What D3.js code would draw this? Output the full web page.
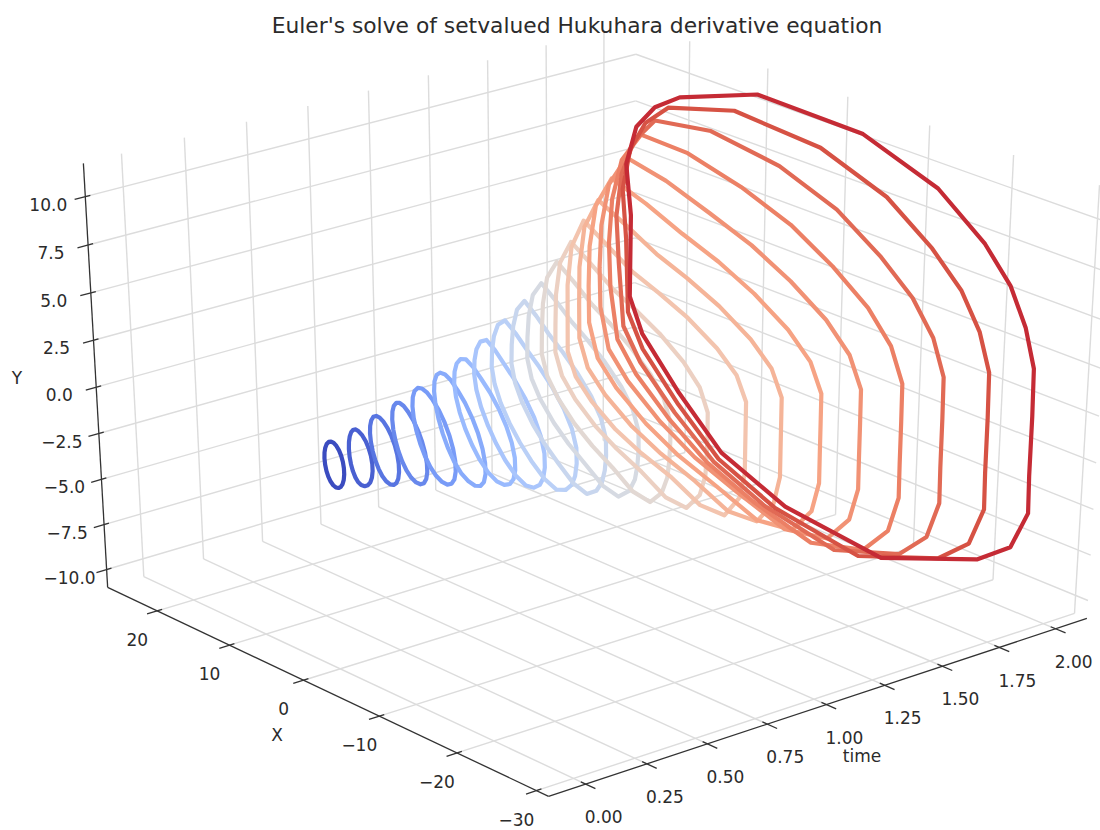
<!DOCTYPE html>
<html>
<head>
<meta charset="utf-8">
<script src="https://cdn.jsdelivr.net/npm/d3@7"></script>
<style>
body { margin: 0; background: #fff; }
text { font-family: "DejaVu Sans", sans-serif; fill: #2b2b2b; }
</style>
</head>
<body>
<div id="chart-area"></div>
<script>
/*
*    main.js
*/
var timeTicks = [0, 0.25, 0.5, 0.75, 1, 1.25, 1.5, 1.75, 2]
var xTicks = [20, 10, 0, -10, -20, -30]
var yTicks = [-10, -7.5, -5, -2.5, 0, 2.5, 5, 7.5, 10]

// time of each ring
var ringTime = [0, 0.1, 0.2, 0.3, 0.4, 0.5, 0.6, 0.7, 0.8, 0.9, 1, 1.1, 1.2, 1.3, 1.4, 1.5, 1.6, 1.7, 1.8, 1.9, 2]
// extent of each ring towards -X, towards +X and in Y
var ringNegX = [1.3, 1.75, 1.95, 2.4, 2.9, 3.6, 4.3, 5, 6, 6.7, 7.8, 8.8, 10.5, 12.3, 13.8, 15.8, 17.8, 20, 22.2, 24.9, 27.5]
var ringPosX = [1.25, 1.3, 1.75, 2.05, 2.6, 2.95, 3.5, 4.05, 4.9, 5.45, 6.5, 7.7, 9, 10.45, 12, 13.8, 15.4, 17.2, 19.25, 21.45, 24]
var ringHalfY = [1.17, 1.42, 1.67, 1.94, 2.28, 2.64, 2.97, 3.55, 4.1, 4.67, 5.1, 5.7, 6.2, 6.75, 7.3, 7.9, 8.5, 9.2, 9.95, 10.68, 11.2]
// lean of the round rings, then how far each ring has gone to the flat and the late outline
var ringLean = [0.15, 0.2, 0.4, 0.5, 0.53, 0.6, 0.62, 0.65, 0.68, 0.7, 0.72, 0.75, 0.75, 0.75, 0.75, 0.75, 0.75, 0.75, 0.75, 0.75, 0.75]
var ringFlat = [0, 0, 0, 0, 0, 0, 0.15, 0.3, 0.45, 0.6, 0.7, 0.8, 0.9, 1, 1, 1, 1, 1, 1, 1, 1]
var ringLate = [0, 0, 0, 0, 0, 0, 0, 0, 0, 0, 0, 0, 0, 0, 0.07, 0.17, 0.27, 0.43, 0.64, 0.83, 1]
// outline of the last ring (t = 2)
var lateX = [17, 7.2, -5.9, -15.1, -20.9, -24.1, -26.1, -27.3, -27.4, -27.4, -27.5, -25.6, -21.65, -9.84, 2.55, 11, 16.7, 21.66, 23.35, 23.25, 23.9, 22.6, 20.2]
var lateY = [9.6, 11.2, 11.1, 9.7, 7.75, 6.1, 4.25, 2.3, -0.2, -3.4, -5.4, -7.6, -9, -11.1, -10.46, -8.9, -6.5, -4, -2.2, 2.3, 5, 7.2, 8.6]
// outline of the middle rings, as a fraction of their extent
var flatX = [0.8, 0.5, 0.2, -0.1, -0.4, -0.7, -0.9, -1, -1, -1, -1, -0.95, -0.8, -0.55, -0.25, 0.08, 0.4, 0.7, 0.9, 1, 1, 1, 0.95]
var flatY = [0.95, 0.83, 0.71, 0.63, 0.53, 0.39, 0.25, 0.08, -0.1, -0.28, -0.46, -0.66, -0.84, -0.84, -0.72, -0.63, -0.53, -0.39, -0.25, -0.08, 0.15, 0.42, 0.72]
// round outline of the small rings, same vertex order
var roundX = [0.5, 0.248, -0.023, -0.292, -0.539, -0.747, -0.898, -0.984, -0.996, -0.934, -0.804, -0.613, -0.378, -0.113, 0.158, 0.419, 0.648, 0.829, 0.949, 0.999, 0.974, 0.878, 0.717]
var roundY = [0.866, 0.969, 1, 0.957, 0.842, 0.665, 0.44, 0.18, -0.09, -0.357, -0.595, -0.79, -0.926, -0.994, -0.987, -0.908, -0.762, -0.559, -0.314, -0.047, 0.225, 0.478, 0.697]

var coolwarm = ["#3b4cc0", "#5977e3", "#7b9ff9", "#9ebeff", "#c0d4f5", "#dddcdc", "#f2cbb7", "#f7a889", "#ee8468", "#d85646", "#b40426"]

var width = 1100
var height = 830
var tLim = [-0.15, 2.14]
var xLim = [-31.5, 27]
var yLim = [-11, 11.7]

var svg = d3.select("#chart-area")
    .append("svg")
    .attr("width", width)
    .attr("height", height)

// box coordinates 0..1
var tBox = d3.scaleLinear().domain(tLim).range([0, 1])
var xBox = d3.scaleLinear().domain(xLim).range([0, 1])
var yBox = d3.scaleLinear().domain(yLim).range([0, 1])

// where known axis points land on the page: [time, X, Y, px, py]
var anchors = [
    [tLim[0], 20, yLim[0], 157, 610],
    [tLim[0], 0, yLim[0], 303, 680],
    [tLim[0], -20, yLim[0], 457, 753],
    [tLim[0], -30, yLim[0], 538, 792],
    [tLim[0], xLim[1], yLim[0], 108, 587],
    [tLim[0], xLim[1], -10, 107, 570],
    [tLim[0], xLim[1], 0, 96, 388],
    [tLim[0], xLim[1], 10, 85, 196],
    [0, xLim[0], yLim[0], 585, 784],
    [1, xLim[0], yLim[0], 825, 704],
    [2, xLim[0], yLim[0], 1054, 629],
    [tLim[0], xLim[0], yLim[0], 549, 796],
    [tLim[1], xLim[1], 10, 636, 55],
    [tLim[1], xLim[1], 7.5, 636, 101],
    [tLim[1], xLim[1], yLim[0], 633, 431],
    [tLim[1], -20, yLim[0], 995, 580],
    [tLim[1], -30, yLim[0], 1077, 613],
    [tLim[1], -20, 10, 1013, 188],
    [tLim[1], xLim[0], yLim[0], 1086, 618],
    [tLim[1], xLim[0], -10, 1088, 602],
    [tLim[1], xLim[0], 0, 1097, 415]
]

// least squares fit of the camera matrix
function solveCamera(points) {
    var n = 11
    var A = d3.range(n).map(() => d3.range(n + 1).map(() => 0))
    points.forEach((p) => {
        var a = tBox(p[0]), b = xBox(p[1]), c = yBox(p[2]), u = p[3], v = p[4]
        var rows = [
            [a, b, c, 1, 0, 0, 0, 0, -u * a, -u * b, -u * c, u],
            [0, 0, 0, 0, a, b, c, 1, -v * a, -v * b, -v * c, v]
        ]
        rows.forEach((r) => {
            for (var i = 0; i < n; i++) {
                for (var j = 0; j <= n; j++) {
                    A[i][j] += r[i] * r[j]
                }
            }
        })
    })
    for (var i = 0; i < n; i++) {
        var best = i
        for (var k = i + 1; k < n; k++) {
            if (Math.abs(A[k][i]) > Math.abs(A[best][i])) best = k
        }
        var tmp = A[i]; A[i] = A[best]; A[best] = tmp
        for (var k = 0; k < n; k++) {
            if (k == i) continue
            var f = A[k][i] / A[i][i]
            for (var j = i; j <= n; j++) A[k][j] -= f * A[i][j]
        }
    }
    return d3.range(n).map((i) => A[i][n] / A[i][i])
}

var cam = solveCamera(anchors)

function project(t, x, y) {
    var a = tBox(t), b = xBox(x), c = yBox(y)
    var w = cam[8] * a + cam[9] * b + cam[10] * c + 1
    return [
        (cam[0] * a + cam[1] * b + cam[2] * c + cam[3]) / w,
        (cam[4] * a + cam[5] * b + cam[6] * c + cam[7]) / w
    ]
}

var seg = d3.line()

function drawGrid(from, to) {
    svg.append("path")
        .attr("d", seg([from, to]))
        .attr("fill", "none")
        .attr("stroke", "#dcdcdc")
        .attr("stroke-width", 1.4)
}

// left wall, right wall and floor grids
timeTicks.forEach((t) => {
    drawGrid(project(t, xLim[1], yLim[0]), project(t, xLim[1], yLim[1]))
    drawGrid(project(t, xLim[0], yLim[0]), project(t, xLim[1], yLim[0]))
})
xTicks.forEach((x) => {
    drawGrid(project(tLim[1], x, yLim[0]), project(tLim[1], x, yLim[1]))
    drawGrid(project(tLim[0], x, yLim[0]), project(tLim[1], x, yLim[0]))
})
yTicks.forEach((y) => {
    drawGrid(project(tLim[0], xLim[1], y), project(tLim[1], xLim[1], y))
    drawGrid(project(tLim[1], xLim[1], y), project(tLim[1], xLim[0], y))
})

function drawAxisLine(from, to) {
    svg.append("path")
        .attr("d", seg([from, to]))
        .attr("fill", "none")
        .attr("stroke", "#333")
        .attr("stroke-width", 1.3)
}

drawAxisLine(project(tLim[0], xLim[1], yLim[0]), project(tLim[0], xLim[1], yLim[1]))
drawAxisLine(project(tLim[0], xLim[1], yLim[0]), project(tLim[0], xLim[0], yLim[0]))
drawAxisLine(project(tLim[0], xLim[0], yLim[0]), project(tLim[1], xLim[0], yLim[0]))

function tickLabel(pos, dx, dy, str) {
    svg.append("text")
        .attr("x", pos[0] + dx)
        .attr("y", pos[1] + dy)
        .attr("dy", "0.36em")
        .attr("text-anchor", "middle")
        .attr("font-size", "17px")
        .text(str)
}

yTicks.forEach((y) => {
    drawAxisLine(project(tLim[0] - 0.042, xLim[1], y), project(tLim[0] + 0.02, xLim[1], y))
    tickLabel(project(tLim[0], xLim[1], y), -37, 8, d3.format(".1f")(y))
})
xTicks.forEach((x) => {
    drawAxisLine(project(tLim[0] - 0.042, x, yLim[0]), project(tLim[0] + 0.02, x, yLim[0]))
    tickLabel(project(tLim[0], x, yLim[0]), -20, 29, d3.format("d")(x))
})
timeTicks.forEach((t) => {
    drawAxisLine(project(t, xLim[0] - 1.2, yLim[0]), project(t, xLim[0] + 0.6, yLim[0]))
    tickLabel(project(t, xLim[0], yLim[0]), 18, 33, d3.format(".2f")(t))
})

// rings
var color = d3.scaleLinear()
    .domain(d3.range(coolwarm.length).map((d) => d / (coolwarm.length - 1)))
    .range(coolwarm)

var ringLine = d3.line().curve(d3.curveLinearClosed)
var lastNeg = d3.max(lateX, (d) => -d)
var lastPos = d3.max(lateX)
var lastY = d3.max(lateY, (d) => Math.abs(d))

function ringPoints(t, i) {
    var lean = ringLean[i]
    var shape = lateX.map((x, k) => {
        var ru = roundX[k]
        var rv = lean * ru + Math.sqrt(1 - lean * lean) * roundY[k]
        var mu = ringFlat[i] * flatX[k] + (1 - ringFlat[i]) * ru
        var mv = ringFlat[i] * flatY[k] + (1 - ringFlat[i]) * rv
        var lu = x > 0 ? x / lastPos : x / lastNeg
        var lv = lateY[k] / lastY
        return [ringLate[i] * lu + (1 - ringLate[i]) * mu, ringLate[i] * lv + (1 - ringLate[i]) * mv]
    })
    var top = d3.max(shape, (d) => Math.abs(d[1]))
    return shape.map((d) => project(
        t,
        d[0] * (d[0] > 0 ? ringPosX[i] : ringNegX[i]),
        d[1] / top * ringHalfY[i]
    ))
}

svg.selectAll(".ring")
    .data(ringTime)
    .enter()
    .append("path")
    .attr("class", "ring")
    .attr("fill", "none")
    .attr("stroke-width", 4.2)
    .attr("stroke-linejoin", "round")
    .attr("stroke", (t, i) => color(i / ringTime.length))
    .attr("d", (t, i) => ringLine(ringPoints(t, i)))

svg.append("text")
    .attr("x", 577)
    .attr("y", 25)
    .attr("dy", "0.36em")
    .attr("text-anchor", "middle")
    .attr("font-size", "21.8px")
    .text("Euler's solve of setvalued Hukuhara derivative equation")

svg.append("text").attr("x", 277).attr("y", 735).attr("dy", "0.36em").attr("text-anchor", "middle")
    .attr("font-size", "17px").text("X")
svg.append("text").attr("x", 17).attr("y", 378).attr("dy", "0.36em").attr("text-anchor", "middle")
    .attr("font-size", "17px").text("Y")
svg.append("text").attr("x", 862).attr("y", 756).attr("dy", "0.36em").attr("text-anchor", "middle")
    .attr("font-size", "17px").text("time")
</script>
</body>
</html>
